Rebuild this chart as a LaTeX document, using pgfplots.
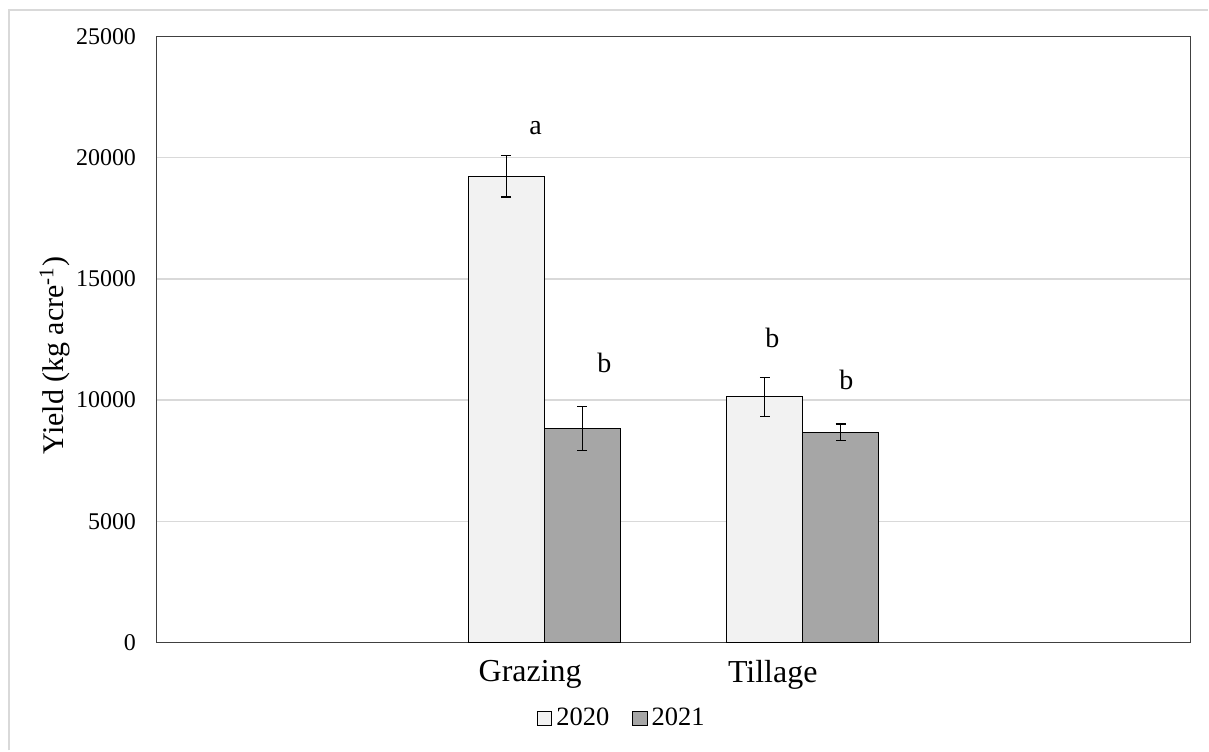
\documentclass[border=0pt]{standalone}
\usepackage{fontspec}
\setmainfont{Liberation Serif}
\usepackage{pgfplots}
\pgfplotsset{compat=1.18}
\definecolor{cLight}{HTML}{F2F2F2}
\definecolor{cDark}{HTML}{A6A6A6}
\definecolor{cGrid}{HTML}{D9D9D9}
\definecolor{cAxis}{HTML}{404040}
\begin{document}
\begin{tikzpicture}
\begin{axis}[
  name=ax,
  scale only axis,
  width=517.5pt, height=303.25pt,
  xmin=-0.5, xmax=3.5,
  ymin=0, ymax=25000,
  ytick={0,5000,10000,15000,20000,25000},
  xtick={0.946,1.884},
  xticklabels={Grazing,Tillage},
  major tick length=0pt,
  ymajorgrids,
  grid style={cGrid, line width=0.75pt},
  axis line style={cAxis, line width=0.75pt},
  /pgf/number format/assume math mode=true,
  scaled y ticks=false,
  yticklabel style={font=\fontsize{12}{14}\selectfont, anchor=east, inner sep=0pt, xshift=-10pt, /pgf/number format/1000 sep={}},
  xticklabel style={font=\fontsize{16}{18}\selectfont, anchor=north, inner sep=0pt, yshift=-8.5pt},
  every axis y label/.style={at={(rel axis cs:-0.0981,0.473)}, rotate=90, anchor=center, font=\fontsize{15}{17}\selectfont},
  ylabel={Yield (kg acre\textsuperscript{-1})},
  ybar,
  bar width=0.2937,
  legend columns=2,
  legend style={at={(rel axis cs:0.3676,-0.1253)}, anchor=west, draw=none, inner sep=0pt, font=\fontsize{13.25}{15}\selectfont,
    /tikz/every even column/.append style={column sep=9.5pt}},
  legend image code/.code={\draw[#1, line width=0.5pt] (0pt,-3.6pt) rectangle (7.2pt,3.6pt);},
  clip=false,
]
\addplot[bar shift=-0.14685, fill=cLight, draw=black, line width=0.5pt,
  error bars/.cd, y dir=both, y explicit,
  error bar style={black, line width=0.6pt},
  error mark options={rotate=90, black, mark size=2.5pt, line width=0.6pt}]
  coordinates {(1,19230) +- (0,850) (2,10135) +- (0,805)};
\addplot[bar shift=0.14685, fill=cDark, draw=black, line width=0.5pt,
  error bars/.cd, y dir=both, y explicit,
  error bar style={black, line width=0.6pt},
  error mark options={rotate=90, black, mark size=2.5pt, line width=0.6pt}]
  coordinates {(1,8825) +- (0,915) (2,8670) +- (0,345)};
\legend{2020,2021}
\node[font=\fontsize{14}{16}\selectfont, anchor=center] at (axis cs:0.9667,21228) {a};
\node[font=\fontsize{14}{16}\selectfont, anchor=center] at (axis cs:1.2333,11542) {b};
\node[font=\fontsize{14}{16}\selectfont, anchor=center] at (axis cs:1.8826,12572) {b};
\node[font=\fontsize{14}{16}\selectfont, anchor=center] at (axis cs:2.1686,10841) {b};
\end{axis}
\pgfresetboundingbox
\draw[cGrid, line width=1pt] ([xshift=-73.75pt, yshift=-54pt]ax.south west) -- ([xshift=-73.75pt, yshift=316.5pt]ax.south west) -- ([xshift=526.25pt, yshift=316.5pt]ax.south west);
\useasboundingbox ([xshift=-78.25pt, yshift=-54pt]ax.south west) rectangle ([xshift=526.25pt, yshift=321.5pt]ax.south west);
\end{tikzpicture}
\end{document}
